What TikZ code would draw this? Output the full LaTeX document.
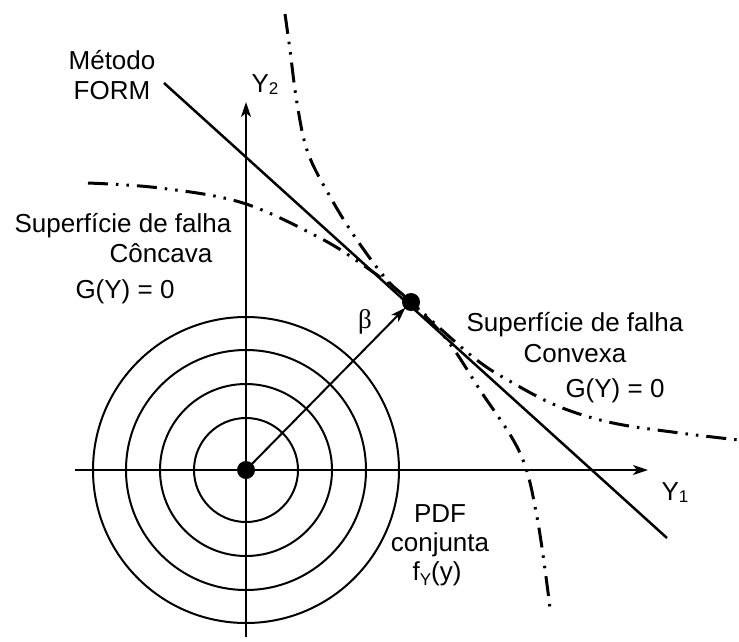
\documentclass[tikz,border=0pt]{standalone}
\usepackage{fontspec}
\setmainfont{Liberation Sans}
\newfontfamily\grserif{Liberation Serif}
\usetikzlibrary{arrows.meta}
\begin{document}
\begin{tikzpicture}[x=1pt,y=-1pt,
  lbl/.style={inner sep=0pt, anchor=base, font=\fontsize{26}{30}\selectfont},
  ax/.style={line width=2pt, -{Stealth[length=15pt,width=10pt,inset=4pt]}},
  ring/.style={line width=2pt},
  formline/.style={line width=2.5pt},
  lim/.style={line width=3pt, dash pattern=on 20pt off 8pt on 2.5pt off 8pt on 2.5pt off 8pt},
  dotpt/.style={circle, fill=black, inner sep=0pt, minimum size=18pt}]
\useasboundingbox (0,0) rectangle (739,641);
% coordinates
\coordinate (o) at (246,470);
\coordinate (b) at (411,302);
\coordinate (xl) at (75,470);
\coordinate (xr) at (648,470);
\coordinate (yb) at (246,637);
\coordinate (yt) at (246,102);
\coordinate (f1) at (164,83);
\coordinate (f2) at (667,538);
% circles
\foreach \r in {52,86,120,153} \draw[ring] (o) circle[radius=\r];
% axes
\draw[ax] (xl) -- (xr);
\draw[ax] (yb) -- (yt);
% FORM line
\draw[formline] (f1) -- (f2);
% limit state curves
\draw[lim] plot[smooth, tension=0.6] coordinates {(285,14) (290,50) (297,103) (308,153) (332,200) (357,240) (387,280) (411,302) (447,340) (480,390) (520,453) (537,517) (550,608)};
\draw[lim] plot[smooth, tension=0.6] coordinates {(88,183) (160,188) (243,203) (320,238) (363,265) (397,290) (411,302) (473,357) (513,383) (560,407) (613,423) (680,433) (739,440)};
% beta arrow
\draw[ax, shorten >=8pt] (o) -- (b);
% dots
\node[dotpt] (odot) at (o) {};
\node[dotpt] (bdot) at (b) {};
% labels
\node[lbl] (m1) at (112,69) {Método};
\node[lbl] (m2) at (112,99) {FORM};
\node[lbl] (y2) at (265,92) {Y\raisebox{-2pt}{\fontsize{17}{17}\selectfont 2}};
\node[lbl] (y1) at (675,500) {Y\raisebox{-2pt}{\fontsize{17}{17}\selectfont 1}};
\node[lbl] (sl1) at (123,232) {Superfície de falha};
\node[lbl] (sl2) at (161,262) {Côncava};
\node[lbl] (sl3) at (125,298) {G(Y) = 0};
\node[lbl] (sr1) at (575,331) {Superfície de falha};
\node[lbl] (sr2) at (575,362) {Convexa};
\node[lbl] (sr3) at (615,397) {G(Y) = 0};
\node[inner sep=0pt, font=\grserif\fontsize{27}{30}\selectfont] (beta) at (365,322) {β};
\node[lbl] (p1) at (440,522) {PDF};
\node[lbl] (p2) at (440,551) {conjunta};
\node[lbl] (p3) at (437,580) {f\raisebox{-5pt}{\fontsize{17}{17}\selectfont Y}(y)};
\end{tikzpicture}
\end{document}
